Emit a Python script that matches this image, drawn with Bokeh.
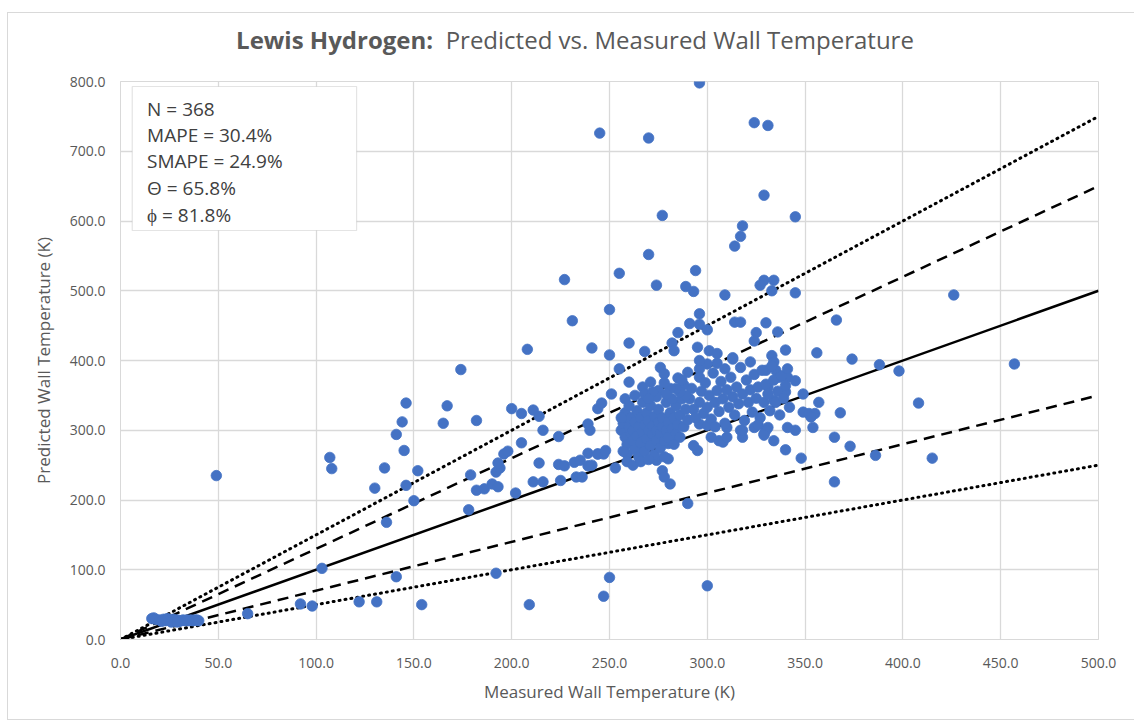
from bokeh.plotting import figure
from bokeh.layouts import column
from bokeh.models import Range1d, Label, BoxAnnotation, PrintfTickFormatter, FixedTicker, ColumnDataSource, Div
from bokeh.embed import file_html
from bokeh.resources import INLINE

# ---------------- data (measured K, predicted K) ----------------
near_origin = [(16,30),(17,31),(18,29),(20,28),(22,29),(23,27),(24,30),(25,28),(26,27),(27,29),
               (28,27),(29,28),(30,26),(31,27),(32,28),(33,27),(34,28),(35,27),(36,28),(37,27),
               (38,28),(39,28),(40,27),(21,26),(26,25),(29,25)]

sparse = [(49,235),(65,37),(92,51),(98,48),(103,102),(122,54),(131,54),(141,90),(154,50),(192,95),
          (209,50),(247,62),(250,89),(300,77),
          (107,261),(108,245),(130,217),(135,246),(136,168),(141,294),(144,312),(146,339),(145,271),
          (146,221),(150,199),(152,242),
          (165,310),(167,335),(174,387),(179,236),(178,186),(182,314),(182,214),(186,216),(190,223),
          (193,219),(192,240),(194,246),(193,253),(196,266),(198,270),(202,210),(200,331),(205,324),
          (211,329),(214,320),(216,300),(224,291),(205,282),(214,253),(211,226),(216,226),(224,251),
          (227,249),(232,254),(235,257),(225,228),(233,233),(236,233),(239,249),(244,266),(247,266),
          (239,267),(239,309),(240,300),(244,331),(246,339),(251,352),(208,416),(241,418),(231,457),
          (227,516),(250,473),(255,525),(260,425),(250,408),(268,413),(282,425),(283,414),(255,388),
          (260,369),(267,362),(271,369),(275,357),(276,390),(278,381),(285,375),(290,383),(296,388),
          (296,376),(290,195)]

upper = [(296,798),(245,726),(270,719),(324,741),(331,737),(329,637),(277,608),(345,606),(318,593),
         (317,578),(314,564),(270,552),(294,529),(274,508),(289,506),(293,499),(309,494),(329,515),
         (334,515),(327,508),(333,500),(345,497),(296,467),(291,453),(296,452),(300,444),(314,455),
         (317,455),(330,454),(366,458),(285,440),(325,440),(336,441),(324,428),(295,419),(301,414),
         (305,410),(340,415),(356,411),(374,402),(388,394),(398,385),(426,494),(457,395),(408,339),
         (415,260),(386,264),(365,226),(373,277),(365,290),(368,325),(357,340)]

right_side = [(333,407),(334,398),(335,386),(330,386),(337,376),(341,376),(345,371),(331,362),
              (340,355),(349,352),(334,343),(342,333),(349,326),(352,324),(355,324),(353,319),
              (354,304),(331,304),(329,295),(341,304),(345,300),(334,285),(340,272),(348,260)]

lower_band = [(277,242),(278,233),(281,223),(253,246),(241,250),(244,266),(248,271),(264,273),
              (259,266),(271,285),(268,276),(280,259),(274,257),(282,290),(280,281),(293,278),
              (295,271),(306,285),(308,283),(302,290),(318,290),(317,300),(324,304),(330,300),
              (329,293),(310,304),(296,309),(300,307)]

cluster_a = [(256,300),(257,310),(258,290),(258,325),(259,280),(260,305),(260,335),(261,295),(261,318),
             (262,285),(262,300),(263,312),(263,272),(264,328),(264,292),(265,305),(265,262),(266,318),
             (266,282),(267,298),(267,340),(268,308),(268,270),(269,288),(269,325),(270,300),(270,314),
             (271,278),(271,335),(272,295),(272,306),(273,265),(273,320),(274,285),(274,300),(275,312),
             (275,330),(276,275),(276,295),(277,305),(277,318),(278,285),(278,262),(279,300),(279,340),
             (280,312),(280,290),(281,325),(282,302),(283,280),(283,318),(284,295),(284,335),(285,308),
             (286,290),(286,322),(287,345),(288,305),(289,330),(290,315),(257,270),(259,255),(262,250),
             (266,255),(270,258),(256,318),(258,345),(263,350),(268,352)]

cluster_b = [(296,340),(297,356),(298,324),(299,368),(300,333),(301,350),(302,316),(303,382),(304,340),
             (305,357),(305,396),(306,327),(307,370),(308,345),(309,310),(309,388),(310,358),(311,333),
             (312,376),(313,348),(313,404),(314,322),(315,362),(316,338),(317,390),(318,352),(319,314),
             (320,372),(321,340),(322,358),(322,398),(323,326),(324,380),(325,346),(326,362),(327,318),
             (328,386),(329,340),(330,366),(331,352),(332,328),(333,392),(334,372),(335,340),(336,356),
             (337,322),(338,378),(339,346),(340,364),(341,388),(304,305),(310,290),(318,300),(326,308),
             (313,402),(300,395),(296,400),(292,360),(291,345),(293,330),(294,318),(289,350),(288,365),
             (286,355),(284,360),(287,372),(282,345),(281,360),(279,352),(278,368),(274,348),(272,355),
             (270,345)]

ratio_solid = [1.0]
ratio_dashed = [1.3, 0.7]
ratio_dotted = [1.5, 0.5]
x_line_end = [0, 500]

stats_lines = ["N = 368", "MAPE = 30.4%", "SMAPE = 24.9%", "\u0398 = 65.8%", "\u03d5 = 81.8%"]
title_bold = "Lewis Hydrogen:"
title_rest = "Predicted vs. Measured Wall Temperature"
x_title = "Measured Wall Temperature (K)"
y_title = "Predicted Wall Temperature (K)"
x_ticks = [0, 50, 100, 150, 200, 250, 300, 350, 400, 450, 500]
y_ticks = [0, 100, 200, 300, 400, 500, 600, 700, 800]

# ---------------- figure ----------------
FONT = "Open Sans"
GRAY = "#595959"
GRID = "#d9d9d9"

p = figure(frame_width=978, frame_height=558,
           x_range=Range1d(0, 500), y_range=Range1d(0, 800),
           min_border_left=112, min_border_right=30, min_border_top=14, min_border_bottom=80,
           output_backend="svg", toolbar_location=None)
p.background_fill_color = "white"
p.border_fill_color = "white"
p.outline_line_color = GRID

for ax in (p.xaxis[0], p.yaxis[0]):
    ax.axis_line_color = GRID
    ax.major_tick_line_color = None
    ax.minor_tick_line_color = None
    ax.major_label_text_color = GRAY
    ax.major_label_text_font = FONT
    ax.major_label_text_font_size = "14px"
    ax.axis_label_text_color = GRAY
    ax.axis_label_text_font = FONT
    ax.axis_label_text_font_size = "17px"
    ax.axis_label_text_font_style = "normal"
    ax.formatter = PrintfTickFormatter(format="%.1f")

p.xaxis.ticker = FixedTicker(ticks=x_ticks)
p.yaxis.ticker = FixedTicker(ticks=y_ticks)
p.xaxis.axis_label = x_title
p.yaxis.axis_label = y_title
p.xaxis.major_label_standoff = 12
p.yaxis.major_label_standoff = 9
p.xaxis.axis_label_standoff = 9
p.yaxis.axis_label_standoff = 12

p.xgrid.ticker = FixedTicker(ticks=x_ticks)
p.ygrid.ticker = FixedTicker(ticks=y_ticks)
p.xgrid.grid_line_color = GRID
p.ygrid.grid_line_color = GRID
p.xgrid.grid_line_width = 1.3
p.ygrid.grid_line_width = 1.3

# reference lines
for r in ratio_solid:
    p.line(x_line_end, [r * v for v in x_line_end], line_color="black", line_width=2.5)
for r in ratio_dashed:
    p.line(x_line_end, [r * v for v in x_line_end], line_color="black", line_width=2.5,
           line_dash="11 7")
for r in ratio_dotted:
    p.line(x_line_end, [r * v for v in x_line_end], line_color="black", line_width=3,
           line_dash="1 5", line_cap="round")

# points
pts = near_origin + sparse + upper + right_side + lower_band + cluster_a + cluster_b
src = ColumnDataSource(dict(x=[a for a, b in pts], y=[b for a, b in pts]))
p.scatter("x", "y", source=src, size=10.5, fill_color="#4472C4", line_color="#4472C4",
          line_width=0.8)

# stats box
p.add_layout(BoxAnnotation(left=6.0, right=120.7, top=792.8, bottom=586.4,
                           fill_color="white", fill_alpha=1.0, line_color="#a6a6a6",
                           line_width=1.2, level="overlay"))
line_y = [759.9, 722.6, 685.7, 647.0, 608.9]
for txt, yy in zip(stats_lines, line_y):
    p.add_layout(Label(x=13.6, y=yy, text=txt, text_font=FONT, text_font_size="19px",
                       text_color="#404040", text_baseline="middle", level="overlay"))

# title (mixed bold / normal)
title = Div(text=f"<b>{title_bold}</b>&nbsp; {title_rest}", width=1120, height=44,
            styles={"font-family": FONT, "font-size": "24px", "color": GRAY,
                    "text-align": "center", "line-height": "44px", "width": "1120px",
                    "padding-left": "4px", "white-space": "nowrap"})

layout = column(title, p, spacing=0,
                styles={"margin-left": "7px", "margin-top": "12px",
                        "border": "1px solid #d9d9d9", "background-color": "white"})

open("out.html", "w").write(file_html(layout, INLINE))
